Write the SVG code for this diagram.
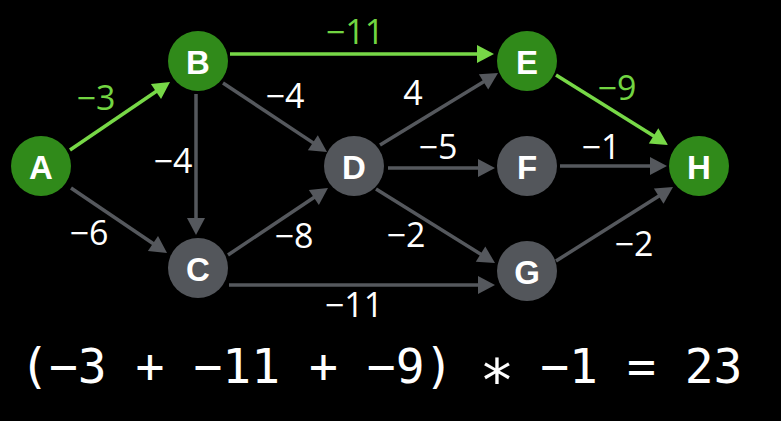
<svg xmlns="http://www.w3.org/2000/svg" width="781" height="421" viewBox="0 0 781 421">
<style>
.bg{fill:#000}
.ng{fill:#308a1a}
.nd{fill:#53565b}
.nl{font-family:"Liberation Sans",Arial,sans-serif;font-weight:bold;font-size:33px;fill:#fff;text-anchor:middle}
.e{stroke:#55585d;stroke-width:3.5;fill:none;marker-end:url(#ag)}
.eh{stroke:#77d847;stroke-width:3.5;fill:none;marker-end:url(#ah)}
.lb{font-family:"Open Sans","Noto Sans",sans-serif;font-size:34px;fill:#fff;text-anchor:middle}
.lh{fill:#72d542}
.eq{font-family:"DejaVu Sans Mono","Liberation Mono",monospace;font-size:48px;fill:#fff}
</style>
<defs>
<marker id="ag" markerUnits="userSpaceOnUse" markerWidth="17" markerHeight="18" refX="5" refY="9" orient="auto" overflow="visible"><path d="M0,0 L17,9 L0,18 z" fill="#55585d"/></marker>
<marker id="ah" markerUnits="userSpaceOnUse" markerWidth="17" markerHeight="18" refX="5" refY="9" orient="auto" overflow="visible"><path d="M0,0 L17,9 L0,18 z" fill="#77d847"/></marker>
</defs>
<rect class="bg" x="0" y="0" width="781" height="421"/>
<g id="edges">
<line class="eh" x1="70" y1="150" x2="160.1" y2="88.7"/>
<line class="e" x1="71" y1="188" x2="157.1" y2="246.3"/>
<line class="e" x1="196" y1="94" x2="196" y2="223"/>
<line class="e" x1="223" y1="83" x2="317" y2="145.4"/>
<line class="eh" x1="230" y1="54" x2="482" y2="54"/>
<line class="e" x1="228" y1="255" x2="318" y2="194.7"/>
<line class="e" x1="229" y1="285" x2="483" y2="285"/>
<line class="e" x1="380" y1="145" x2="487.8" y2="79.3"/>
<line class="e" x1="388" y1="168" x2="483" y2="168"/>
<line class="e" x1="376" y1="189" x2="484.8" y2="256.7"/>
<line class="eh" x1="556" y1="75" x2="657.8" y2="138.6"/>
<line class="e" x1="560" y1="166" x2="655" y2="166"/>
<line class="e" x1="556" y1="261" x2="662.9" y2="193.4"/>
</g>
<g id="edge-labels">
<text class="lb lh" x="96" y="110">−3</text>
<text class="lb" x="89" y="245">−6</text>
<text class="lb" x="173" y="173">−4</text>
<text class="lb" x="285" y="108">−4</text>
<text class="lb lh" x="355" y="44">−11</text>
<text class="lb" x="294" y="248">−8</text>
<text class="lb" x="354" y="317">−11</text>
<text class="lb" x="413" y="105">4</text>
<text class="lb" x="438" y="159">−5</text>
<text class="lb" x="406" y="247">−2</text>
<text class="lb lh" x="617" y="100">−9</text>
<text class="lb" x="601" y="159">−1</text>
<text class="lb" x="634" y="256">−2</text>
</g>
<g id="node-A"><circle class="ng" cx="41" cy="166" r="30"/><text class="nl" x="41" y="179">A</text></g>
<g id="node-B"><circle class="ng" cx="198" cy="61" r="30"/><text class="nl" x="198" y="74">B</text></g>
<g id="node-C"><circle class="nd" cx="198" cy="268" r="30"/><text class="nl" x="198" y="281">C</text></g>
<g id="node-D"><circle class="nd" cx="354" cy="166" r="30"/><text class="nl" x="354" y="179">D</text></g>
<g id="node-E"><circle class="ng" cx="527" cy="61" r="30"/><text class="nl" x="527" y="74">E</text></g>
<g id="node-F"><circle class="nd" cx="527" cy="166" r="30"/><text class="nl" x="527" y="179">F</text></g>
<g id="node-G"><circle class="nd" cx="527" cy="271" r="30"/><text class="nl" x="527" y="284">G</text></g>
<g id="node-H"><circle class="ng" cx="699" cy="166" r="30"/><text class="nl" x="699" y="179">H</text></g>
<text class="eq" x="20" y="383" xml:space="preserve">(−3 + −11 + −9) <tspan x="479.5" y="388.5" font-size="58">∗</tspan><tspan x="511.3" y="383"> −1 = 23</tspan></text>
</svg>
